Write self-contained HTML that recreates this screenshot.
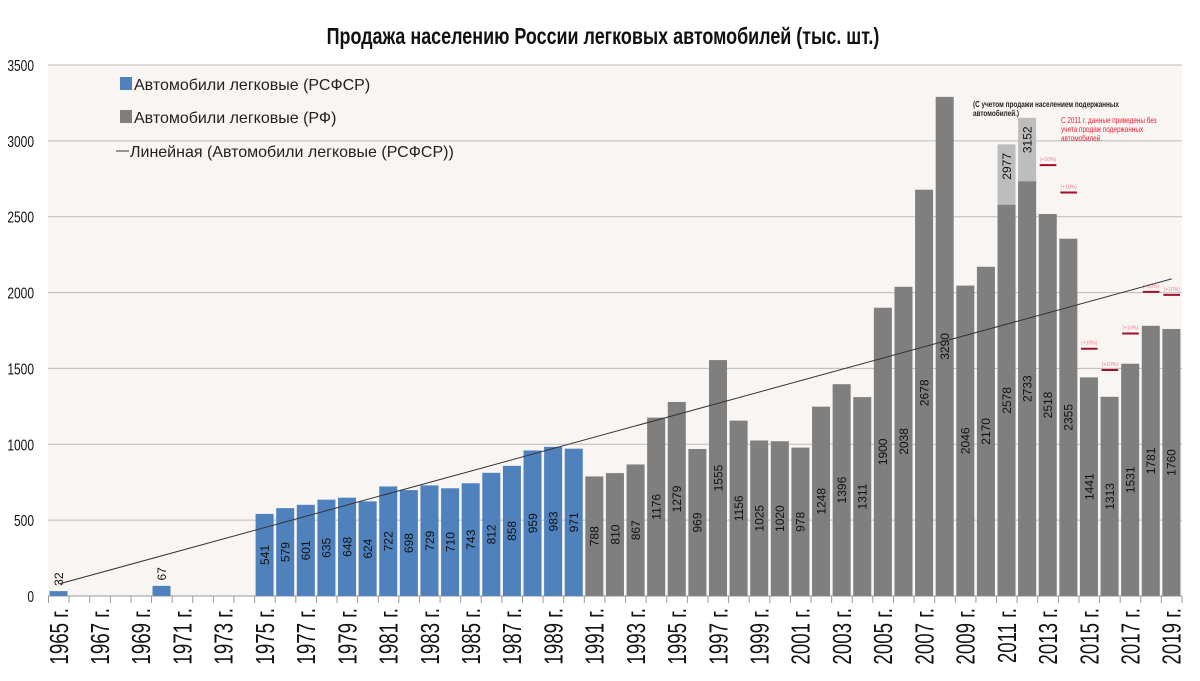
<!DOCTYPE html>
<html><head><meta charset="utf-8"><style>
body{margin:0;background:#fff;}
svg{display:block;font-family:"Liberation Sans","DejaVu Sans",sans-serif;}
</style></head><body>
<svg id="chart" width="1200" height="681">
<rect x="0" y="0" width="1200" height="681" fill="#fff"/>
<rect x="48" y="65" width="1134" height="531" fill="#f8f5f3"/>
<text x="603" y="44" text-anchor="middle" font-size="23" font-weight="bold" fill="#111" transform="translate(603,0) scale(0.78,1) translate(-603,0)">Продажа населению России легковых автомобилей (тыс. шт.)</text>
<g id="grid"></g><g id="bars"></g><g id="labels"></g><g id="markers"></g><g id="xaxis"></g>
<line id="trend" stroke="#333" stroke-width="1"/>
<g>
<rect x="120" y="77" width="12" height="13" fill="#4f81bd"/>
<text x="134" y="90" font-size="16" fill="#222">Автомобили легковые (РСФСР)</text>
<rect x="120" y="110" width="12" height="13" fill="#7f7f7f"/>
<text x="134" y="123" font-size="16" fill="#222">Автомобили легковые (РФ)</text>
<line x1="116" y1="151" x2="129" y2="151" stroke="#333"/>
<text x="130" y="157" font-size="16" fill="#222">Линейная (Автомобили легковые (РСФСР))</text>
</g>
<g transform="translate(973,0) scale(0.8,1) translate(-973,0)">
<text x="973" y="107" font-size="8" font-weight="bold" fill="#222"><tspan x="973">(С учетом продажи населением подержанных</tspan><tspan x="973" dy="9">автомобилей.)</tspan></text>
</g>
<g transform="translate(1061,0) scale(0.8,1) translate(-1061,0)">
<text x="1061" y="123" font-size="8" fill="#e8203a"><tspan x="1061">С 2011 г. данные приведены без</tspan><tspan x="1061" dy="9">учета продаж подержанных</tspan><tspan x="1061" dy="9">автомобилей.</tspan></text>
</g>
</svg>
<script>
const years = [];
for (let y = 1965; y <= 2019; y++) years.push(y);
const rsfsr = {1965:32,1970:67,1975:541,1976:579,1977:601,1978:635,1979:648,1980:624,1981:722,1982:698,1983:729,1984:710,1985:743,1986:812,1987:858,1988:959,1989:983,1990:971};
const rfYears = [1991,1992,1993,1994,1995,1996,1997,1998,1999,2000,2001,2002,2003,2004,2005,2006,2007,2008,2009,2010,2011,2012,2013,2014,2015,2016,2017,2018,2019];
const rfValues = [788,810,867,1176,1279,969,1555,1156,1025,1020,978,1248,1396,1311,1900,2038,2678,3290,2046,2170,2578,2733,2518,2355,1441,1313,1531,1781,1760];
const usedYears = [2011,2012];
const usedValues = [2977,3152];
const markerYears = [2013,2014,2015,2016,2017,2018,2019];
const markerValues = [2840,2660,1630,1490,1730,2005,1985];
const yTicks = [0,500,1000,1500,2000,2500,3000,3500];
const trendValues = [79,2090];

const NS = "http://www.w3.org/2000/svg";
const X0 = 48.5, SLOT = (1182 - 48.5) / 55, Y0 = 596, PXU = 531 / 3500;
const xs = y => X0 + (y - 1965) * SLOT;
const ys = v => Y0 - v * PXU;
function mk(tag, parent, attrs){const e=document.createElementNS(NS,tag);for(const k in attrs)e.setAttribute(k,attrs[k]);parent.appendChild(e);return e;}
const grid=document.getElementById('grid'), bars=document.getElementById('bars'), labels=document.getElementById('labels'), markers=document.getElementById('markers'), xaxis=document.getElementById('xaxis');

yTicks.forEach(t=>{
  const l=mk('line',grid,{x1:48,x2:1182,y1:ys(t),y2:ys(t),stroke:t===0?'#999':'#bbb','stroke-width':1});
  
  
  const tx=mk('text',grid,{x:0,y:0,'font-size':16,fill:'#111','text-anchor':'end',transform:`translate(34,${ys(t)+6}) scale(0.75,1)`});
  tx.textContent=t;
  
  
});

function bar(y,v,color){
  const r=mk('rect',bars,{x:xs(y)+1,y:ys(v),width:SLOT-2.6,height:v*PXU,fill:color});
  
  
}
function label(y,v,cy){
  const cx=xs(y)+SLOT/2;
  const t=mk('text',labels,{x:0,y:0,'font-size':12,fill:'#111','text-anchor':'middle',transform:`translate(${cx+4},${cy}) rotate(-90)`});
  t.textContent=v;
  
  
}
usedYears.forEach((y,i)=>{bar(y,usedValues[i],'#bdbdbd');});
Object.keys(rsfsr).forEach(k=>{
  const y=+k,v=rsfsr[k];bar(y,v,'#4f81bd');
  if(v<100) label(y,v,ys(v)-12); else label(y,v,ys(v/2));
});
rfYears.forEach((y,i)=>{bar(y,rfValues[i],'#7f7f7f');label(y,rfValues[i],ys(rfValues[i]/2));});
usedYears.forEach((y,i)=>{label(y,usedValues[i],ys(usedValues[i])+22);});

markerYears.forEach((y,i)=>{
  const m=mk('line',markers,{x1:xs(y)+2,x2:xs(y)+SLOT-2,y1:ys(markerValues[i]),y2:ys(markerValues[i]),stroke:'#a0102a','stroke-width':2});
  
  
  const t=mk('text',markers,{x:xs(y)+SLOT/2,y:ys(markerValues[i])-4,'font-size':5,fill:'#f08090','text-anchor':'middle'});
  t.textContent='(+10%)';
  
  
});

const tr=document.getElementById('trend');
tr.setAttribute('x1',xs(1965)+SLOT/2);tr.setAttribute('y1',ys(trendValues[0]));
tr.setAttribute('x2',xs(2019)+SLOT/2);tr.setAttribute('y2',ys(trendValues[1]));

for(let i=0;i<=55;i++){
  const x=X0+i*SLOT;
  const l=mk('line',xaxis,{x1:x,x2:x,y1:596,y2:603,stroke:'#999'});
  
  
}
years.forEach(y=>{
  if((y-1965)%2) return;
  const cx=xs(y)+SLOT/2;
  const t=mk('text',xaxis,{x:0,y:0,'font-size':26,fill:'#111','text-anchor':'end',transform:`translate(${cx+9},608) rotate(-90) scale(0.72,1)`});
  t.textContent=y+' г.';
  
  
});
</script>
</body></html>
